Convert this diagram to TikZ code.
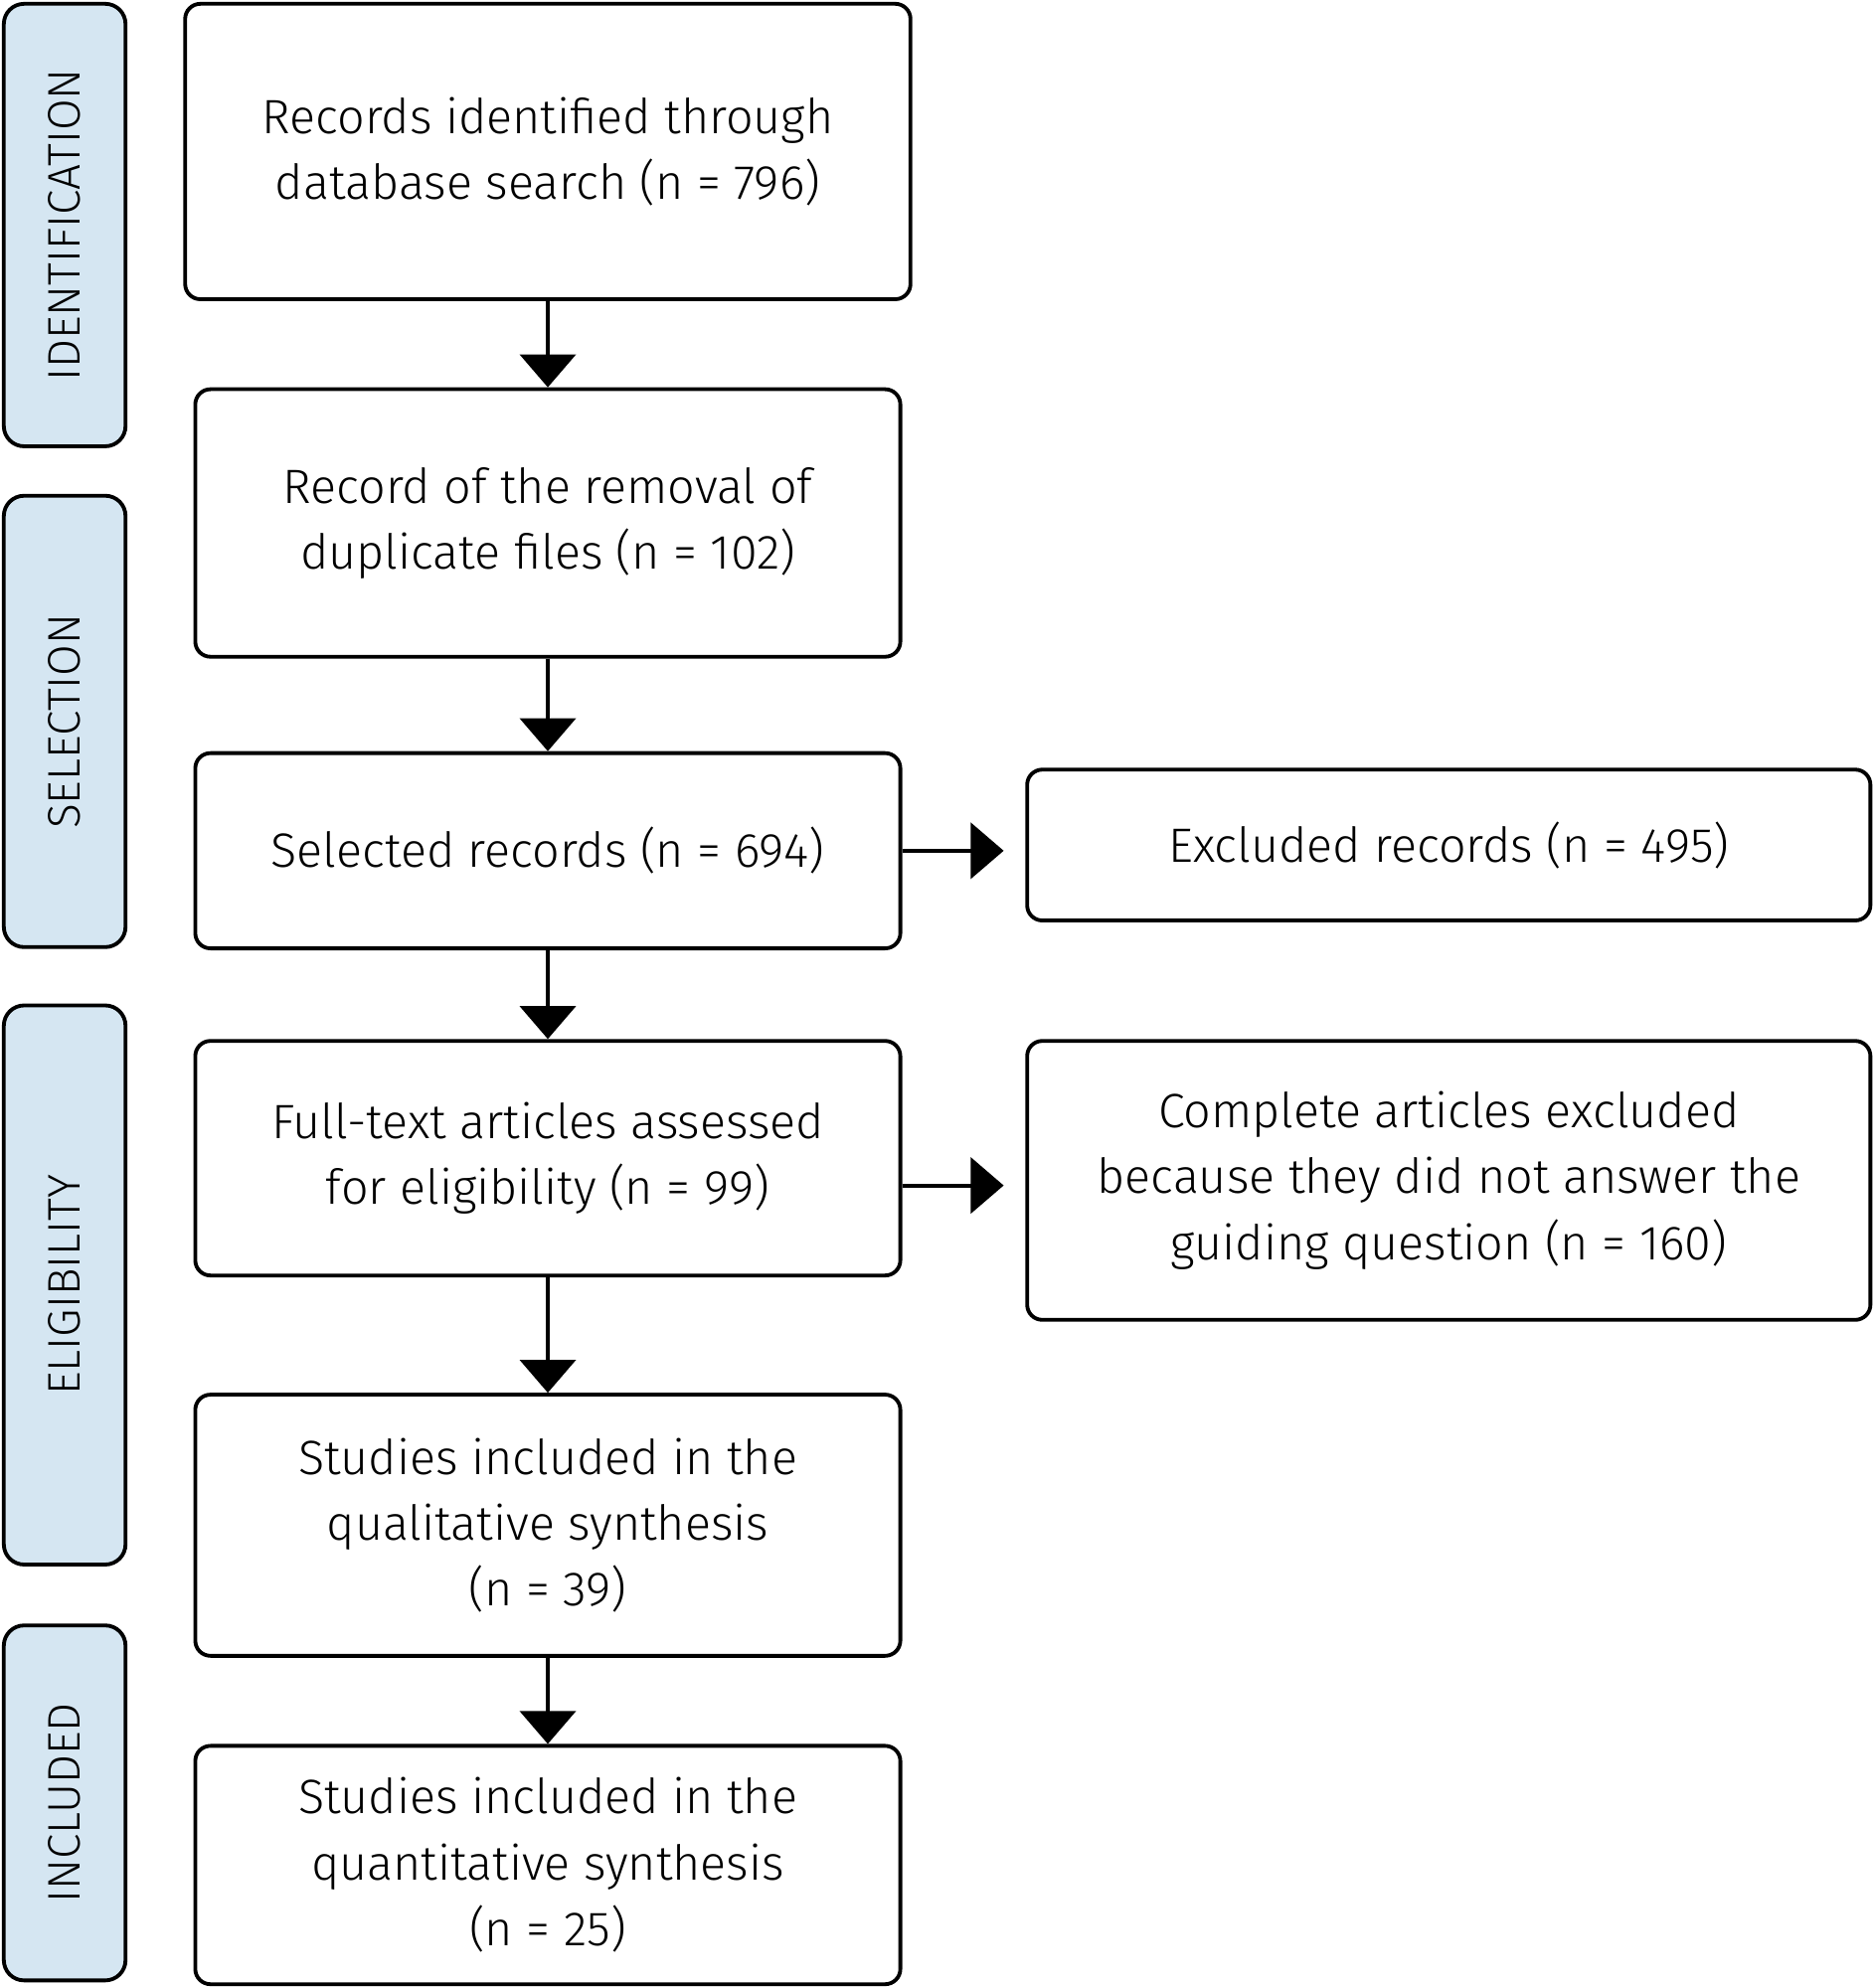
\documentclass[tikz,border=0pt]{standalone}
\usepackage{fontspec}
\setmainfont{Fira Sans Light}
\usetikzlibrary{arrows.meta}
\definecolor{sidefill}{RGB}{213,230,242}
\tikzset{
  box/.style={draw, line width=1.5pt, rounded corners=6pt, align=center,
    inner sep=0pt, font=\fontsize{19}{26}\selectfont},
  side/.style={draw, line width=1.5pt, rounded corners=8pt, fill=sidefill,
    inner sep=0pt, minimum width=48pt},
  sidetext/.style={rotate=90, font=\fontsize{18}{20}\selectfont},
  flow/.style={line width=1.5pt, -{Triangle[length=13pt,width=22pt]}},
}
\begin{document}
\begin{tikzpicture}[x=0.5pt,y=-0.5pt]
  \useasboundingbox (0,0) rectangle (1477,1568);
  % phases
  \node[side, minimum height=174.5pt] (idside) at (51,177.5) {};
  \node[sidetext] at (idside) {IDENTIFICATION};
  \node[side, minimum height=178pt] (selside) at (51,569) {};
  \node[sidetext] at (selside) {SELECTION};
  \node[side, minimum height=220.5pt] (eliside) at (51,1013.5) {};
  \node[sidetext] at (eliside) {ELIGIBILITY};
  \node[side, minimum height=140pt] (incside) at (51,1422) {};
  \node[sidetext] at (incside) {INCLUDED};
  % main column
  \node[box, minimum width=286pt, minimum height=116.5pt] (ident) at (432,119.5)
    {Records identified through\\database search (n = 796)};
  \node[box, minimum width=278pt, minimum height=105.5pt] (dup) at (432,412.5)
    {Record of the removal of\\duplicate files (n = 102)};
  \node[box, minimum width=278pt, minimum height=77pt] (sel) at (432,671)
    {Selected records (n = 694)};
  \node[box, minimum width=278pt, minimum height=92.5pt] (full) at (432,913.5)
    {Full-text articles assessed\\for eligibility (n = 99)};
  \node[box, minimum width=278pt, minimum height=103pt] (qual) at (432,1203)
    {Studies included in the\\qualitative synthesis\\(n = 39)};
  \node[box, minimum width=278pt, minimum height=94pt] (quant) at (432,1471)
    {Studies included in the\\quantitative synthesis\\(n = 25)};
  % exclusions
  \node[box, minimum width=332.5pt, minimum height=59.5pt] (excl) at (1142.5,666.5)
    {Excluded records (n = 495)};
  \node[box, minimum width=332.5pt, minimum height=110pt] (compl) at (1142.5,931)
    {Complete articles excluded\\because they did not answer the\\guiding question (n = 160)};
  % arrows
  \draw[flow] (ident) -- (dup);
  \draw[flow] (dup) -- (sel);
  \draw[flow] (sel) -- (full);
  \draw[flow] (full.south) -- (qual.north);
  \draw[flow] (qual) -- (quant);
  \draw[flow] (sel.east) -- ++(80,0);
  \draw[flow] (full.east |- 0,935) -- ++(80,0);
\end{tikzpicture}
\end{document}
